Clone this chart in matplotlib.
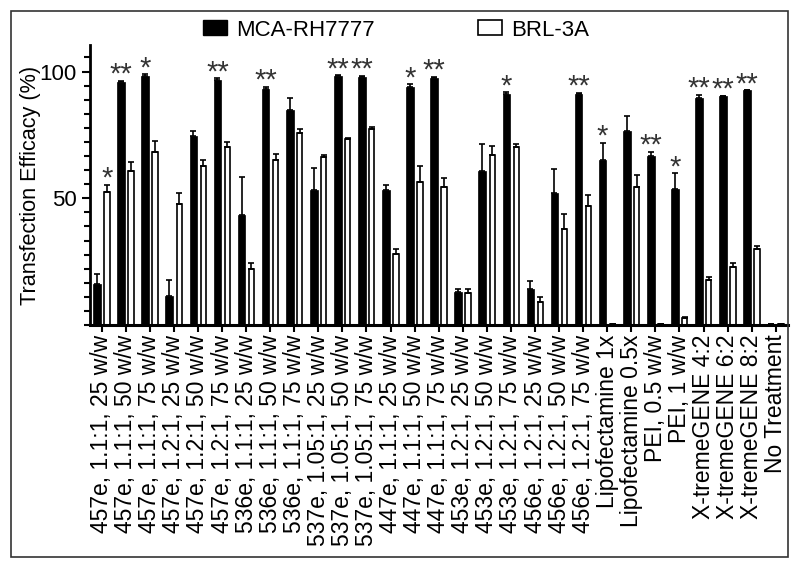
import numpy as np
import matplotlib
matplotlib.use("Agg")
import matplotlib.pyplot as plt
from matplotlib.patches import Rectangle, Patch
from matplotlib.ticker import MultipleLocator, FixedLocator

plt.rcParams['font.family'] = ['Liberation Sans', 'DejaVu Sans']

# categories (x axis)
categories = [
    "457e, 1.1:1, 25 w/w", "457e, 1.1:1, 50 w/w", "457e, 1.1:1, 75 w/w",
    "457e, 1.2:1, 25 w/w", "457e, 1.2:1, 50 w/w", "457e, 1.2:1, 75 w/w",
    "536e, 1.1:1, 25 w/w", "536e, 1.1:1, 50 w/w", "536e, 1.1:1, 75 w/w",
    "537e, 1.05:1, 25 w/w", "537e, 1.05:1, 50 w/w", "537e, 1.05:1, 75 w/w",
    "447e, 1.1:1, 25 w/w", "447e, 1.1:1, 50 w/w", "447e, 1.1:1, 75 w/w",
    "453e, 1.2:1, 25 w/w", "453e, 1.2:1, 50 w/w", "453e, 1.2:1, 75 w/w",
    "456e, 1.2:1, 25 w/w", "456e, 1.2:1, 50 w/w", "456e, 1.2:1, 75 w/w",
    "Lipofectamine 1x", "Lipofectamine 0.5x", "PEI, 0.5 w/w", "PEI, 1 w/w",
    "X-tremeGENE 4:2", "X-tremeGENE 6:2", "X-tremeGENE 8:2", "No Treatment",
]

# MCA-RH7777 (black) means and upper errors
mca = [16.2, 95.8, 98.4, 11.5, 74.7, 96.8, 43.5, 93.1, 84.7, 53.4, 98.1, 97.9,
       53.2, 93.8, 97.5, 13.2, 60.7, 91.1, 14.4, 51.9, 91.1, 65.1, 76.7, 66.7,
       53.8, 89.6, 90.5, 92.6, 0.4]
mca_err = [4.0, 0.5, 0.5, 6.2, 2.0, 0.5, 15.0, 1.0, 4.7, 8.6, 0.5, 0.5,
           2.0, 1.3, 0.5, 1.0, 10.6, 0.7, 3.1, 9.5, 0.5, 6.8, 5.8, 1.7,
           6.0, 1.3, 0.0, 0.0, 0.0]

# BRL-3A (white) means and upper errors
brl = [52.5, 60.7, 68.1, 47.6, 62.7, 70.1, 22.2, 65.3, 75.9, 66.1, 73.3, 77.2,
       28.0, 56.5, 54.5, 12.8, 67.1, 70.4, 8.9, 38.0, 46.8, 0.4, 54.5, 0.5,
       2.9, 17.9, 23.0, 29.8, 0.4]
brl_err = [2.9, 3.7, 4.5, 4.3, 2.4, 2.2, 2.1, 2.0, 1.3, 1.0, 0.3, 1.1,
           1.8, 6.2, 3.6, 1.4, 3.5, 0.9, 2.2, 5.9, 4.4, 0.0, 4.6, 0.0,
           0.4, 0.9, 1.5, 1.2, 0.0]

# significance marks: index -> (series, mark)
stars = {0: ("brl", "*"), 1: ("mca", "**"), 2: ("mca", "*"), 5: ("mca", "**"),
         7: ("mca", "**"), 10: ("mca", "**"), 11: ("mca", "**"), 13: ("mca", "*"),
         14: ("mca", "**"), 17: ("mca", "*"), 20: ("mca", "**"), 21: ("mca", "*"),
         23: ("mca", "**"), 24: ("mca", "*"), 25: ("mca", "**"), 26: ("mca", "**"),
         27: ("mca", "**")}

x = np.arange(len(categories))
mca = np.array(mca); brl = np.array(brl)
mca_err = np.array(mca_err); brl_err = np.array(brl_err)

fig = plt.figure(figsize=(8, 5.69), dpi=100)
ax = fig.add_axes([0.1125, 0.4288, 0.985 - 0.1125, 0.921 - 0.4288])

xb = x - 0.19
xw = x + 0.22
ax.bar(xb, mca, width=0.32, color='black', edgecolor='black', linewidth=0.5,
       label='MCA-RH7777', zorder=2)
ax.bar(xw, brl, width=0.22, color='white', edgecolor='black', linewidth=1.2,
       label='BRL-3A', zorder=2)
ax.errorbar(xb, mca, yerr=[np.zeros_like(mca_err), mca_err], fmt='none',
            ecolor='black', elinewidth=1.2, capsize=2, capthick=1.2, zorder=3)
ax.errorbar(xw, brl, yerr=[np.zeros_like(brl_err), brl_err], fmt='none',
            ecolor='black', elinewidth=1.2, capsize=2, capthick=1.2, zorder=3)

for i, (series, mark) in stars.items():
    if series == "mca":
        xs, top = xb[i], mca[i] + mca_err[i]
    else:
        xs, top = xw[i], brl[i] + brl_err[i]
    ax.annotate(mark, (xs, top), xytext=(0, -1.5), textcoords='offset points',
                ha='center', va='baseline', fontsize=21, color='#333333')

ax.set_xlim(-0.486, 28.51)
ax.set_ylim(0, 110.5)
ax.yaxis.set_major_locator(FixedLocator([50, 100]))
ax.yaxis.set_minor_locator(MultipleLocator(50 / 9))
ax.set_xticks(x)
ax.set_xticklabels(categories, rotation=90, ha='center', va='top', fontsize=16.5)
ax.tick_params(axis='y', which='major', labelsize=16, length=6, width=1.5)
ax.tick_params(axis='y', which='minor', length=4, width=1.5)
ax.tick_params(axis='x', length=5, width=1.5, pad=2)

for s in ['top', 'right']:
    ax.spines[s].set_visible(False)
ax.spines['left'].set_linewidth(2)
ax.spines['bottom'].set_linewidth(2.2)

ax.set_ylabel("Transfection Efficacy (%)", fontsize=15.6, labelpad=-1)

fig.legend(handles=[Patch(facecolor='black', edgecolor='black', label='MCA-RH7777'),
                    Patch(facecolor='white', edgecolor='black', linewidth=1.2, label='BRL-3A')],
           loc='center', bbox_to_anchor=(396 / 800, 1 - 30 / 569), ncol=2,
           frameon=False, fontsize=16, handlelength=1.1, handleheight=0.68,
           handletextpad=0.4, columnspacing=4.64)

# border around the whole figure
fig.patches.append(Rectangle((11 / 800, 1 - 557 / 569), (788 - 11) / 800, (557 - 11) / 569,
                             transform=fig.transFigure, fill=False,
                             edgecolor='#333333', linewidth=1.2))

fig.savefig("out.png", dpi=100)
